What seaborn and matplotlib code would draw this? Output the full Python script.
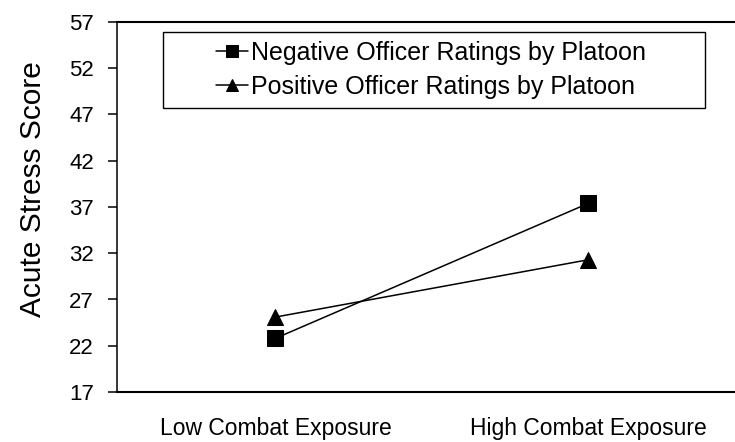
import matplotlib
matplotlib.use("Agg")
import matplotlib.pyplot as plt
import pandas as pd
import seaborn as sns
from matplotlib.patches import Rectangle

# values
EXPOSURE = ["Low Combat Exposure", "High Combat Exposure"]
NEG_LABEL = "Negative Officer Ratings by Platoon"
POS_LABEL = "Positive Officer Ratings by Platoon"
NEG_SCORES = [22.8, 37.4]
POS_SCORES = [25.1, 31.3]
YTICKS = [17, 22, 27, 32, 37, 42, 47, 52, 57]

sns.set_style("white")
plt.rcParams["font.family"] = ["Liberation Sans", "DejaVu Sans"]
plt.rcParams.update({"text.color": "black", "axes.labelcolor": "black",
                     "xtick.color": "black", "ytick.color": "black"})

df = pd.DataFrame({
    "exposure": EXPOSURE * 2,
    "score": NEG_SCORES + POS_SCORES,
    "rating": [NEG_LABEL] * 2 + [POS_LABEL] * 2,
})

fig = plt.figure(figsize=(7.35, 4.42), dpi=100)
ax = fig.add_axes([117 / 735, 50 / 442, 618 / 735, 370 / 442])

sns.lineplot(data=df, x="exposure", y="score", style="rating", sort=False,
             markers={NEG_LABEL: "s", POS_LABEL: "^"}, dashes=False,
             color="black", linewidth=1.1, markersize=11, markeredgecolor="black",
             ax=ax, legend=False)

ax.set_xlim(-0.506, 1.468)
ax.set_ylim(17, 57)
ax.set_yticks(YTICKS)
ax.set_xlabel("")
ax.set_ylabel("Acute Stress Score", fontsize=21.5)
ax.yaxis.set_label_coords(-0.113, 0.549)
ax.tick_params(axis="y", length=6.5, width=1.1, pad=10, labelsize=16, left=True)
ax.tick_params(axis="x", length=0, pad=18, labelsize=16.5)

for side in ["left", "bottom", "top"]:
    ax.spines[side].set_visible(True)
    ax.spines[side].set_color("black")
    ax.spines[side].set_linewidth(1.5)
ax.spines["left"].set_linewidth(1.1)
ax.spines["right"].set_visible(False)

# legend: frameless entries plus a drawn box
ax.legend(ax.lines[:2], [NEG_LABEL, POS_LABEL], loc="center",
          bbox_to_anchor=(0.508, 0.870), frameon=False, fontsize=18,
          numpoints=1, handlelength=1.3, handletextpad=0.12, labelspacing=0.4,
          markerscale=0.85, borderaxespad=0)
ax.add_patch(Rectangle((0.0744, 0.7676), 0.877, 0.2054, transform=ax.transAxes,
                       fill=False, edgecolor="black", linewidth=1.0, zorder=5))

fig.savefig("out.png", dpi=100)
